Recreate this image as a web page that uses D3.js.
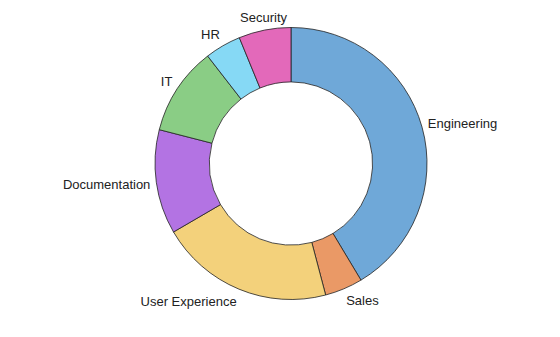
<!DOCTYPE html>
<html><head><meta charset="utf-8">
<script src="https://cdn.jsdelivr.net/npm/d3@7"></script>
<style>body{margin:0;background:#fff}</style>
</head><body>
<svg id="chart" width="560" height="337"></svg>
<script>
const categories = ["Engineering","Sales","User Experience","Documentation","IT","HR","Security"];
const values = [41.4, 4.5, 20.7, 12.4, 10.5, 4.3, 6.2];
const colors = ["#6fa8d8","#ea9966","#f3d17b","#b373e3","#8acd85","#86d9f5","#e369ba"];

const svg = d3.select("#chart");
const cx = 291, cy = 163.5, R = 136, r = R*0.6;
const g = svg.append("g").attr("transform",`translate(${cx},${cy})`);
const data = categories.map((c,i)=>({cat:c, value:values[i], color:colors[i]}));
const pie = d3.pie().value(d=>d.value).sort(null);
const arc = d3.arc().innerRadius(r).outerRadius(R);
const arcs = pie(data);
g.selectAll("path").data(arcs).join("path")
  .attr("d", arc).attr("fill", d=>d.data.color)
  .attr("stroke","#222").attr("stroke-width",0.8);
const LRX = 142, LRY = 149;
const mid = d=>(d.startAngle+d.endAngle)/2;
g.selectAll("text").data(arcs).join("text")
  .attr("x", d=>LRX*Math.sin(mid(d)))
  .attr("y", d=>-LRY*Math.cos(mid(d)))
  .attr("dy","0.35em")
  .attr("text-anchor", d=>{const s=Math.sin(mid(d)); return Math.abs(s)<0.25?"middle":(s>0?"start":"end");})
  .attr("font-family","Liberation Sans, Arial, sans-serif")
  .attr("font-size",13).attr("fill","#222")
  .text(d=>d.data.cat);
</script>
</body></html>
